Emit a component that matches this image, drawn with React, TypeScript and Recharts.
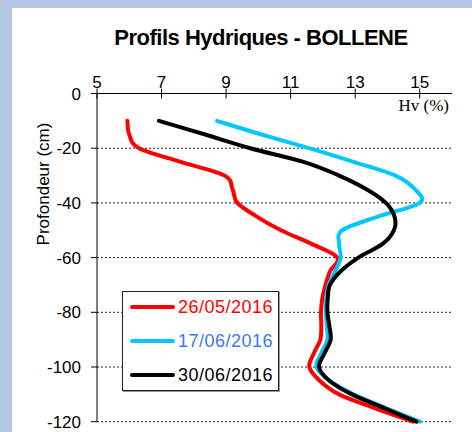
import { ComposedChart, Line, XAxis, YAxis, CartesianGrid } from "recharts";

const depths = [
  -10, -15, -20, -25, -30, -35, -40, -45, -50, -55, -60, -65, -70, -75, -80,
  -85, -90, -95, -100, -105, -110, -115, -120,
];

// Hv (%), one value per depth
const hv26May = [
  5.94, 6.0, 6.3, 7.6, 8.95, 9.2, 9.35, 9.95, 10.7, 11.65, 12.45, 12.22, 12.08,
  11.98, 11.94, 11.95, 11.92, 11.72, 11.58, 11.9, 12.5, 13.6, 14.8,
];
const hv17Jun = [
  8.72, 10.1, 11.57, 12.95, 14.25, 14.85, 15.0, 13.7, 12.6, 12.5, 12.55, 12.38,
  12.18, 12.1, 12.09, 12.12, 12.14, 11.95, 11.8, 12.2, 12.95, 13.95, 15.0,
];
const hv30Jun = [
  6.92, 8.35, 9.75, 11.4, 12.5, 13.35, 13.95, 14.22, 14.2, 13.85, 13.1, 12.55,
  12.22, 12.15, 12.14, 12.2, 12.24, 12.05, 11.88, 12.2, 12.9, 13.9, 14.9,
];

const seriesNames = ["26/05/2016", "17/06/2016", "30/06/2016"];
const seriesColors = ["#ff0000", "#00c8ff", "#000000"];
const legendTextColors = ["#ff0000", "#3a78ff", "#000000"];

const xTicks = [5, 7, 9, 11, 13, 15];
const yTicks = [0, -20, -40, -60, -80, -100, -120];

const rows = depths.map((depth, i) => ({
  depth,
  s0: hv26May[i],
  s1: hv17Jun[i],
  s2: hv30Jun[i],
}));

const FONT = "'Liberation Sans', Arial, sans-serif";
const TICK_GAP = 6;

// Excel-like smoothing (uniform Catmull-Rom) as a d3 curve factory
function smoothCurve(context: any) {
  let pts: number[][] = [];
  return {
    areaStart() {},
    areaEnd() {},
    lineStart() {
      pts = [];
    },
    point(x: number, y: number) {
      pts.push([+x, +y]);
    },
    lineEnd() {
      if (!pts.length) return;
      context.moveTo(pts[0][0], pts[0][1]);
      for (let i = 0; i < pts.length - 1; i++) {
        const p0 = pts[i - 1] || pts[i];
        const p1 = pts[i];
        const p2 = pts[i + 1];
        const p3 = pts[i + 2] || p2;
        context.bezierCurveTo(
          p1[0] + (p2[0] - p0[0]) / 6,
          p1[1] + (p2[1] - p0[1]) / 6,
          p2[0] - (p3[0] - p1[0]) / 6,
          p2[1] - (p3[1] - p1[1]) / 6,
          p2[0],
          p2[1]
        );
      }
    },
  };
}

// top axis ticks cross the line, so draw them ourselves
function TopTick({ x, y, payload }: any) {
  const lineY = y + TICK_GAP;
  return (
    <g>
      <line x1={x} x2={x} y1={lineY - 5} y2={lineY + 5} stroke="#000" />
      <text x={x} y={y} textAnchor="middle" fontSize={17} fontFamily={FONT} fill="#000">
        {payload.value}
      </text>
    </g>
  );
}

export default function App() {
  return (
    <div
      style={{
        position: "absolute",
        left: 0,
        top: 0,
        width: 472,
        height: 432,
        background: "#b4c7e7",
        overflow: "hidden",
      }}
    >
      <div
        style={{
          position: "absolute",
          left: 12,
          top: 8,
          width: 470,
          height: 440,
          background: "#fff",
        }}
      />
      <div style={{ position: "absolute", left: 0, top: 0 }}>
        <ComposedChart
          width={472}
          height={432}
          layout="vertical"
          data={rows}
          margin={{ top: 63.5, right: 20, bottom: 10.3, left: 37 }}
        >
          <CartesianGrid
            horizontal
            vertical={false}
            stroke="#222"
            strokeDasharray="2 2"
          />
          <XAxis
            type="number"
            orientation="top"
            domain={[5, 16]}
            ticks={xTicks}
            height={30}
            tickSize={0}
            tickMargin={TICK_GAP}
            tickLine={false}
            axisLine={{ stroke: "#000" }}
            tick={<TopTick />}
            allowDataOverflow
          />
          <YAxis
            type="number"
            dataKey="depth"
            domain={[-120, 0]}
            ticks={yTicks}
            reversed
            width={60}
            tickSize={6}
            tickMargin={10}
            axisLine={{ stroke: "#000" }}
            tickLine={{ stroke: "#000" }}
            tick={{ fontSize: 17, fontFamily: FONT, fill: "#000" }}
          />
          {["s0", "s1", "s2"].map((key, i) => (
            <Line
              key={key}
              dataKey={key}
              name={seriesNames[i]}
              type={smoothCurve as any}
              stroke={seriesColors[i]}
              strokeWidth={4}
              strokeLinecap="round"
              dot={false}
              isAnimationActive={false}
            />
          ))}
        </ComposedChart>
      </div>
      <svg
        width={472}
        height={432}
        style={{ position: "absolute", left: 0, top: 0, pointerEvents: "none" }}
      >
        <text
          x={261}
          y={45}
          textAnchor="middle"
          fontSize={22}
          fontWeight="bold"
          letterSpacing={-0.5}
          fontFamily={FONT}
          fill="#000"
        >
          Profils Hydriques - BOLLENE
        </text>
        <text
          x={449}
          y={111}
          textAnchor="end"
          fontSize={17}
          fontFamily="'Liberation Serif', 'Times New Roman', serif"
          fill="#000"
        >
          Hv (%)
        </text>
        <text
          transform="translate(49,184) rotate(-90)"
          textAnchor="middle"
          fontSize={17}
          fontFamily={FONT}
          fill="#000"
        >
          Profondeur (cm)
        </text>
      </svg>
      <div
        style={{
          position: "absolute",
          left: 122,
          top: 291,
          width: 157,
          height: 100,
          boxSizing: "border-box",
          border: "1px solid #222",
          background: "#fff",
          boxShadow: "1px 1px 0 #999",
        }}
      >
        {seriesNames.map((name, i) => (
          <div
            key={name}
            style={{
              position: "absolute",
              left: 7,
              top: 5 + i * 34,
              height: 20,
              display: "flex",
              alignItems: "center",
            }}
          >
            <div
              style={{
                width: 45,
                height: 4,
                borderRadius: 2,
                background: seriesColors[i],
              }}
            />
            <span
              style={{
                marginLeft: 3,
                fontFamily: FONT,
                fontSize: 18,
                letterSpacing: 0.5,
                color: legendTextColors[i],
                lineHeight: "20px",
              }}
            >
              {name}
            </span>
          </div>
        ))}
      </div>
    </div>
  );
}
